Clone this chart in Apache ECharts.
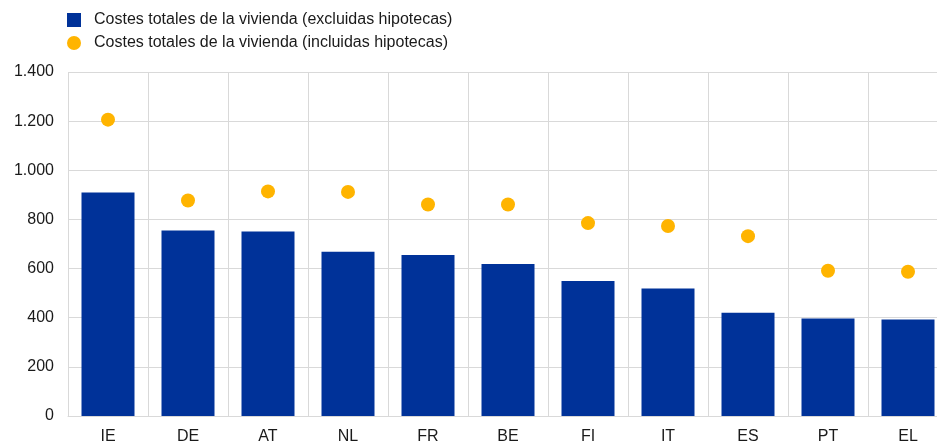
<!DOCTYPE html>
<html>
<head>
<meta charset="utf-8">
<script src="https://cdn.jsdelivr.net/npm/echarts@6/dist/echarts.min.js"></script>
<style>
  html, body { margin: 0; padding: 0; background: #fff; }
  #chart { width: 937px; height: 442px; }
</style>
</head>
<body>
<div id="chart"></div>
<script>
// Countries on the horizontal axis
const countries = ['IE', 'DE', 'AT', 'NL', 'FR', 'BE', 'FI', 'IT', 'ES', 'PT', 'EL'];
// Total housing costs excluding mortgages (bars)
const costsExcl = [910, 755, 751, 668, 655, 619, 549, 519, 420, 397, 393];
// Total housing costs including mortgages (dots)
const costsIncl = [1206, 877, 914, 912, 861, 861, 785, 773, 732, 591, 587];
// Value-axis ticks
const yTicks = [0, 200, 400, 600, 800, 1000, 1200, 1400];

const seriesNames = [
  'Costes totales de la vivienda (excluidas hipotecas)',
  'Costes totales de la vivienda (incluidas hipotecas)'
];

const font = 'Arial, "Liberation Sans", sans-serif';
const textColor = '#1a1a1a';
const gridColor = '#d9d9d9';

// Spanish thousands separator
function fmt(v) {
  return String(v).replace(/\B(?=(\d{3})+(?!\d))/g, '.');
}

const chart = echarts.init(document.getElementById('chart'), null, { renderer: 'canvas' });

chart.setOption({
  animation: false,
  backgroundColor: '#ffffff',
  textStyle: { fontFamily: font },
  legend: {
    orient: 'vertical',
    left: 67,
    top: 12,
    padding: 0,
    itemWidth: 14,
    itemHeight: 14,
    itemGap: 7,
    textStyle: { fontFamily: font, fontSize: 16, color: textColor, padding: [0, 0, 0, 8] },
    data: [
      { name: seriesNames[0], icon: 'rect' },
      { name: seriesNames[1], icon: 'circle' }
    ]
  },
  grid: {
    left: 68,
    top: 72,
    height: 344,
    width: 880,
    containLabel: false,
    outerBoundsMode: 'none'
  },
  xAxis: {
    type: 'category',
    data: countries,
    boundaryGap: true,
    axisLine: { show: true, lineStyle: { color: gridColor, width: 1 } },
    axisTick: { show: false },
    axisLabel: { fontFamily: font, fontSize: 16, color: textColor, margin: 13 },
    splitLine: { show: true, lineStyle: { color: gridColor, width: 1 } }
  },
  yAxis: {
    type: 'value',
    min: yTicks[0],
    max: yTicks[yTicks.length - 1],
    interval: yTicks[1] - yTicks[0],
    axisLine: { show: false },
    axisTick: { show: false },
    axisLabel: {
      fontFamily: font, fontSize: 16, color: textColor, margin: 14,
      formatter: fmt
    },
    splitLine: { show: true, lineStyle: { color: gridColor, width: 1 } }
  },
  series: [
    {
      name: seriesNames[0],
      type: 'bar',
      data: costsExcl,
      barWidth: 53,
      itemStyle: { color: '#003299' }
    },
    {
      name: seriesNames[1],
      type: 'scatter',
      data: costsIncl,
      symbol: 'circle',
      symbolSize: 14,
      itemStyle: { color: '#FFB400', opacity: 1 },
      z: 5
    }
  ]
});
</script>
</body>
</html>
